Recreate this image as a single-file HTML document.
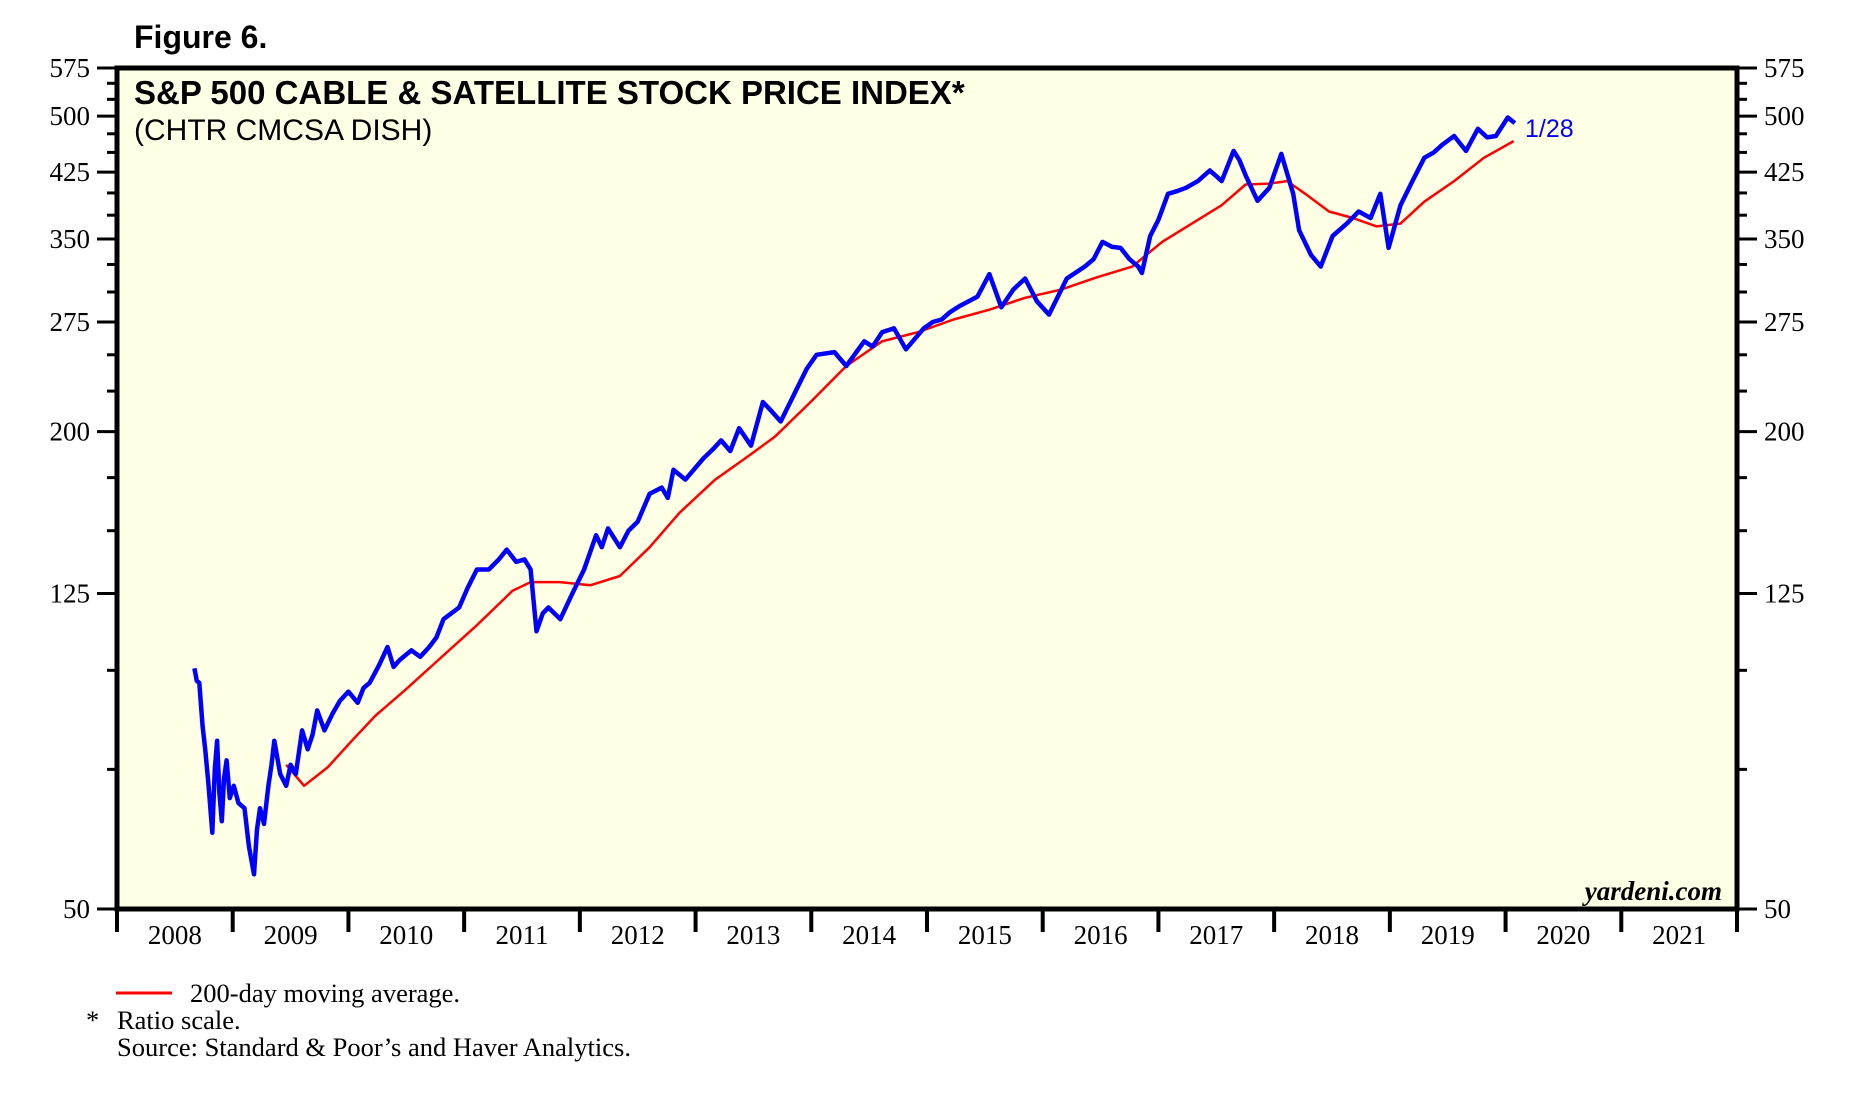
<!DOCTYPE html>
<html><head><meta charset="utf-8">
<style>
html,body{margin:0;padding:0;background:#fff;}
svg{display:block;}
.t{font-family:"Liberation Serif",serif;}
.a{font-family:"Liberation Sans",sans-serif;}
</style></head>
<body>
<svg id="chart" width="1867" height="1100" viewBox="0 0 1867 1100" xmlns="http://www.w3.org/2000/svg">
<text x="134" y="48" class="a" font-size="32" font-weight="bold">Figure 6.</text>
<rect x="117" y="68" width="1620" height="841" fill="#FFFFE6"/>
<g id="grid"></g>
<g id="series"></g>
<rect x="117" y="68" width="1620" height="841" fill="none" stroke="#000" stroke-width="5"/>
<text x="134" y="104" class="a" font-size="33" font-weight="bold">S&amp;P 500 CABLE &amp; SATELLITE STOCK PRICE INDEX*</text>
<text x="134" y="140" class="a" font-size="30">(CHTR CMCSA DISH)</text>
<text x="1525" y="137" class="a" font-size="25" fill="#0000ff">1/28</text>
<text x="1722" y="900" class="t" font-size="27" font-weight="bold" font-style="italic" text-anchor="end">yardeni.com</text>
<g id="axes"></g>
<line x1="116" y1="993" x2="172" y2="993" stroke="#ff0000" stroke-width="3"/>
<text x="190" y="1002" class="t" font-size="26.5">200-day moving average.</text>
<text x="86" y="1029" class="t" font-size="26.5">*</text>
<text x="117" y="1029" class="t" font-size="26.5">Ratio scale.</text>
<text x="117" y="1056" class="t" font-size="26.5">Source: Standard &amp; Poor’s and Haver Analytics.</text>
</svg>
<script>
const yearLabels = [2008,2009,2010,2011,2012,2013,2014,2015,2016,2017,2018,2019,2020,2021];
const yMajor = [50,125,200,275,350,425,500,575];
const yMinor = [75,100,150,175,225,250,300,325,375,400,450,475,525,550];
const priceT = [0.669,0.690,0.711,0.740,0.762,0.790,0.824,0.845,0.865,0.885,0.906,0.925,0.947,0.975,1.009,1.050,1.102,1.140,1.184,1.210,1.236,1.270,1.308,1.335,1.359,1.410,1.462,1.500,1.545,1.600,1.648,1.690,1.730,1.792,1.860,1.926,2.000,2.080,2.130,2.183,2.266,2.338,2.390,2.441,2.544,2.620,2.698,2.760,2.822,2.956,3.030,3.110,3.213,3.300,3.368,3.450,3.522,3.574,3.625,3.680,3.728,3.831,3.934,4.037,4.140,4.190,4.243,4.346,4.420,4.500,4.604,4.707,4.760,4.809,4.912,5.067,5.150,5.221,5.300,5.376,5.479,5.582,5.660,5.736,5.891,5.960,6.045,6.200,6.303,6.457,6.530,6.612,6.715,6.818,6.972,7.050,7.127,7.200,7.281,7.436,7.539,7.642,7.745,7.848,7.950,8.054,8.208,8.363,8.440,8.517,8.600,8.672,8.750,8.826,8.857,8.929,9.000,9.083,9.160,9.238,9.341,9.444,9.500,9.547,9.650,9.700,9.753,9.856,9.959,10.062,10.165,10.216,10.319,10.402,10.505,10.628,10.731,10.834,10.917,10.989,11.092,11.195,11.298,11.380,11.452,11.555,11.658,11.761,11.840,11.916,12.019,12.080];
const priceV = [100.6,97,96.4,85,79.5,72,62.4,75,81.5,70,64.5,73,77,69,71.5,68,67,60,55.3,63,67,64,71.5,76,81.5,74,71.5,76,74,84,79.5,83,89,84,88,91.5,94,91,95,96.4,101.6,107,101,103,106,104,107,110,116,120,127,134,134,138,142,137,138,134,112,118,120,116,124.9,134,148,143,151,143,150,154,167,170,165,179,174,185,190,195,189,202,192,218,212,206,229,240,250,252,242,260,256,267,270,254,270,275,277,283,288,296,316,287,302,312,292,281,312,323,330,347,342,341,330,323,317,353,370,399,402,406,414,427,420,414,452,440,421,391,406,448,399,359,334,323,353,366,379,372,399,341,386,414,443,450,460,472,452,482,470,472,498,490];
const maT = [1.462,1.617,1.823,2.029,2.235,2.492,2.801,3.110,3.419,3.574,3.831,4.089,4.346,4.604,4.861,5.170,5.427,5.685,5.994,6.303,6.612,6.921,7.230,7.539,7.848,8.156,8.465,8.774,9.032,9.289,9.547,9.753,9.959,10.113,10.268,10.474,10.680,10.886,11.092,11.298,11.555,11.813,12.070];
const maV = [76,71.5,75.5,81.5,87.7,94.5,103.8,114,126,129.2,129.2,128,131.5,143,158,174,185,197,218,242,260,267,277,285,295,302,313,323,347,366,386,410,411,414,399,379,372,363,366,390,414,443,465];

const L=117,R=1737,T=68,B=909;
function xs(t){return L+(t)*(R-L)/14;}
function xy(year){return xs(year-2008);}
function ys(v){return B-(B-T)*Math.log10(v/50)/Math.log10(575/50);}
const NS='http://www.w3.org/2000/svg';
const axes=document.getElementById('axes');
const series=document.getElementById('series');
function mk(tag,attrs,parent){const e=document.createElementNS(NS,tag);for(const k in attrs)e.setAttribute(k,attrs[k]);parent.appendChild(e);return e;}

yMajor.forEach(v=>{
  const y=ys(v);
  const tl=mk('line',{x1:L-20,x2:L,y1:y,y2:y,stroke:'#000','stroke-width':3},axes);
  
  
  const tr=mk('line',{x1:R,x2:R+20,y1:y,y2:y,stroke:'#000','stroke-width':3},axes);
  
  
  const a=mk('text',{x:L-27,y:y+9,'text-anchor':'end','font-size':27,class:'t'},axes);
  a.textContent=v;
  
  
  const b=mk('text',{x:R+27,y:y+9,'font-size':27,class:'t'},axes);
  b.textContent=v;
  
  
});
yMinor.forEach(v=>{
  const y=ys(v);
  const a=mk('line',{x1:L-10,x2:L,y1:y,y2:y,stroke:'#000','stroke-width':3},axes);
  
  
  const b=mk('line',{x1:R,x2:R+10,y1:y,y2:y,stroke:'#000','stroke-width':3},axes);
  
  
});
for(let i=0;i<=yearLabels.length;i++){
  const x=xy(2008+i);
  const t=mk('line',{x1:x,x2:x,y1:B,y2:B+23,stroke:'#000','stroke-width':4},axes);
  
  
}
yearLabels.forEach(yr=>{
  const tx=mk('text',{x:xy(yr+0.5),y:B+35,'text-anchor':'middle','font-size':27,class:'t'},axes);
  tx.textContent=yr;
  
  
});
function pts(ts,vs){return ts.map((t,i)=>xs(t).toFixed(1)+','+ys(vs[i]).toFixed(1)).join(' ');}
const ma=mk('polyline',{points:pts(maT,maV),fill:'none',stroke:'#ff0000','stroke-width':2.5,'stroke-linejoin':'round'},series);


const pl=mk('polyline',{points:pts(priceT,priceV),fill:'none',stroke:'#0000ff','stroke-width':4.5,'stroke-linejoin':'round'},series);


</script>
</body></html>
